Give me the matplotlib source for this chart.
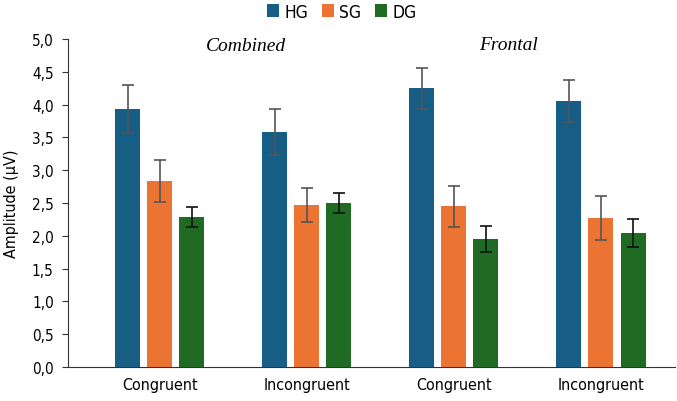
import matplotlib.pyplot as plt
import numpy as np

groups = ["Congruent", "Incongruent", "Congruent", "Incongruent"]
series = ["HG", "SG", "DG"]
hg = [3.93, 3.58, 4.25, 4.05]
sg = [2.84, 2.47, 2.45, 2.27]
dg = [2.29, 2.50, 1.95, 2.04]
hg_err = [0.37, 0.35, 0.31, 0.32]
sg_err = [0.32, 0.26, 0.31, 0.33]
dg_err = [0.15, 0.15, 0.20, 0.21]
yticks = [0.0, 0.5, 1.0, 1.5, 2.0, 2.5, 3.0, 3.5, 4.0, 4.5, 5.0]

colors = ["#175e86", "#ec7432", "#1f6b24"]
ecolors = ["#555555", "#555555", "#111111"]

plt.rcParams['font.family'] = ['DejaVu Sans']
plt.rcParams['font.stretch'] = 'condensed'

fig = plt.figure(figsize=(6.77, 4.02), dpi=100)
ax = fig.add_axes([0.1, 0.0846, 0.897, 0.816])

x = np.arange(len(groups))
w = 0.17
off = 0.218
for i, (vals, errs) in enumerate([(hg, hg_err), (sg, sg_err), (dg, dg_err)]):
    ax.bar(x + (i - 1) * off, vals, w, color=colors[i], label=series[i],
           yerr=errs, error_kw=dict(ecolor=ecolors[i], elinewidth=1.2,
                                    capsize=4, capthick=1.2))

ax.set_xlim(-0.626, 3.503)
ax.set_ylim(0, 5)
ax.set_yticks(yticks)
ax.set_yticklabels([f"{v:.1f}".replace(".", ",") for v in yticks], fontsize=11)
ax.set_xticks(x)
ax.set_xticklabels(groups, fontsize=11.5)
ax.tick_params(axis='x', length=0, pad=7)
ax.tick_params(axis='y', length=4, color="#333333", pad=6)
for s in ["top", "right"]:
    ax.spines[s].set_visible(False)
ax.spines["left"].set_color("#333333")
ax.spines["bottom"].set_color("#333333")
ax.set_ylabel("Amplitude (µV)", fontsize=11.5, labelpad=9)

ax.text(0.585, 4.9, "Combined", fontsize=14, style="italic",
        family="Liberation Serif", ha="center", va="center")
ax.text(2.37, 4.92, "Frontal", fontsize=14, style="italic",
        family="Liberation Serif", ha="center", va="center")

fig.legend(loc="upper center", bbox_to_anchor=(0.505, 1.03), ncol=3, frameon=False,
           fontsize=12.5, handlelength=0.7, handleheight=0.7, handletextpad=0.3,
           columnspacing=0.8)

fig.savefig("out.png", dpi=100)
